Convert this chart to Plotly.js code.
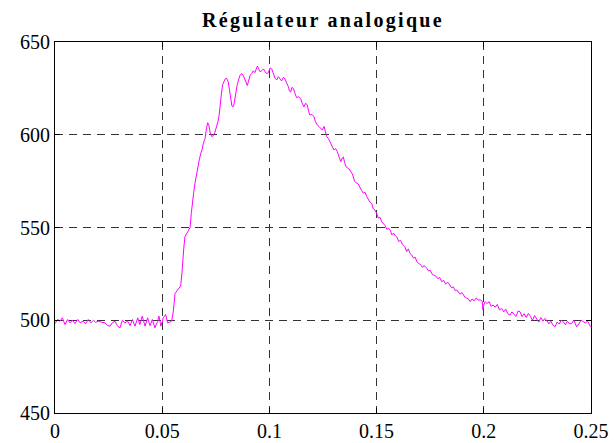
<!DOCTYPE html>
<html>
<head>
<meta charset="utf-8">
<script src="https://cdn.plot.ly/plotly-3.0.1.min.js"></script>
<style>
html,body{margin:0;padding:0;background:#fff;}
#chart{width:614px;height:443px;}
#chart .gtitle{letter-spacing:2.3px;}
</style>
</head>
<body>
<div id="chart"></div>
<script>
const chartTitle = "Régulateur analogique";
const xTickVals = [0, 0.05, 0.1, 0.15, 0.2, 0.25];
const xTickText = ["0", "0.05", "0.1", "0.15", "0.2", "0.25"];
const yTickVals = [450, 500, 550, 600, 650];
const yTickText = ["450", "500", "550", "600", "650"];

const time = [
0,0.00124,0.00233,0.00342,0.00466,0.00591,0.0070,0.0081,0.0093,0.0106,0.0117,0.0132,0.0143,0.0155,0.0168,0.0179,0.0190,0.0202,0.0218,0.0233,0.0246,0.0257,0.0267,0.0280,0.0292,0.0303,0.0314,0.0326,0.0339,0.0350,0.0361,0.0373,0.0386,0.0396,0.0407,0.0420,0.0432,0.0443,0.0454,0.0466,0.0479,0.0485,0.0494,0.0505,0.0516,0.0525,0.0536,0.0544,0.0552,
0.0556,0.0560,0.0570,0.0580,0.0586,0.0592,0.0595,0.0600,0.0606,0.0615,0.0623,0.0630,0.0636,0.0641,0.0647,0.0653,0.0660,0.0667,0.0673,0.0680,0.0686,0.0692,0.0700,0.0706,0.0712,0.0718,0.0724,0.0731,0.0738,0.0745,0.0750,0.0755,0.0760,0.0766,0.0771,0.0777,0.0782,0.0788,0.0793,0.0800,0.0808,0.0814,0.0820,0.0825,0.0830,0.0835,0.0840,0.0845,0.0850,0.0857,0.0863,0.0870,0.0878,0.0885,0.0890,0.0897,0.0903,0.0910,0.0917,0.0925,0.0932,0.0938,0.0944,0.0950,0.0956,0.0964,0.0972,0.0980,0.0987,0.0995,
0.1003,0.1011,0.1018,0.1026,0.1034,0.1042,0.1050,0.1057,0.1065,0.1073,0.1080,0.1088,0.1094,0.1099,0.1105,0.1112,0.1120,0.1127,0.1136,0.1146,0.1153,0.1161,0.1169,0.1177,0.1183,0.1189,0.1198,0.1208,0.1215,0.1223,0.1231,0.1239,0.1247,0.1255,0.1261,0.1267,0.1275,0.1283,0.1292,0.1301,0.1309,0.1317,0.1325,0.1333,0.1340,0.1345,0.1351,0.1357,0.1366,0.1376,0.1383,0.1389,0.1397,0.1405,0.1414,0.1423,0.1430,0.1438,0.1446,0.1454,0.1462,0.1470,0.1477,0.1485,0.1492,
0.1500,0.1508,0.1516,0.1524,0.1531,0.1540,0.1548,0.1556,0.1563,0.1571,0.1579,0.1587,0.1594,0.1603,0.1612,0.1620,0.1632,0.1640,0.1648,0.1656,0.1664,0.1672,0.1680,0.1688,0.1695,0.1705,0.1714,0.1722,0.1734,0.1742,0.1750,0.1758,0.1765,0.1775,0.1785,0.1795,0.1804,0.1813,0.1822,0.1832,0.1842,0.1850,0.1858,0.1866,0.1874,0.1882,0.1890,0.1897,0.1904,0.1912,0.1920,0.1928,0.1936,0.1945,0.1955,0.1964,0.1974,0.1985,0.1993,0.1996,0.1999,
0.2006,0.2015,0.2025,0.2034,0.2044,0.2053,0.2063,0.2073,0.2083,0.2093,0.2102,0.2112,0.2122,0.2131,0.2141,0.2150,0.2160,0.2169,0.2178,0.2188,0.2198,0.2208,0.2218,0.2227,0.2237,0.2247,0.2256,0.2266,0.2276,0.2285,0.2293,0.2303,0.2313,0.2322,0.2332,0.2342,0.2352,0.2361,0.2371,0.2381,0.2390,0.2400,0.2410,0.2420,0.2433,0.2443,0.2454,0.2464,0.2474,0.2484,0.2492,0.2498
];

const signal = [
498.2,500.4,499.5,501.3,497.7,500.4,498.6,500,498.2,500.4,498.6,499.5,498.2,500.4,498.6,500,498.9,499.5,498.9,498.6,497.1,496.8,498.6,499.5,496.8,495.9,500,498.6,499.5,497.1,500.4,496.8,501.3,497.7,502.2,496.8,501.3,497.1,500.4,495.9,499.5,502.2,496.8,501.3,503.1,498.6,499,499.5,504.9,
510,514.5,516,517.5,518.5,525,531,538,545,547,548.5,550,558,565,569,574,579,583,586.5,590,592,595.5,598,603,606.5,605,601,599,599.5,601,603,605,607,611,618,623,627,629,630,630.5,628.5,624,618,615.5,615,616.5,620,624,627,630,632,633,632,630,628,626.5,629,632,633,634.5,633.5,635,637,635.5,634,634.5,635.5,634,633,633.5,
636,635.5,633.5,630.5,629.5,631.3,630,629,631,630,628,626,623.5,623,625.5,625,622,620,620.5,619.5,617,615,617,616,612.5,610.6,611,609.7,607,605.3,604.5,603.5,602.5,604.5,601,599,598,596.3,594,591.8,592.5,590.9,588,585.5,587.5,588,585,582.8,582,581,579.5,578.3,575,574,573.5,571.1,570,568.5,569,566.6,565,563.5,563,560,559.5,
557.7,555,555.5,553,552.3,551,549,549.5,548.7,546,547,545.5,545,542.5,543,541,539.6,537,538.5,536,535.2,533.5,534,531.5,530.7,530,528.5,529.5,528,526.5,527,525,524.4,524,522.5,523,520.8,521.5,519.5,520.5,519,517.5,518,516,516.3,515,514,515,513.6,512.5,512,511.5,510,511.5,510.5,512,510.9,511,510,505.5,508,
510,509,510,507.5,508.2,507,508.5,505.5,506.4,504.5,506,503.5,502.8,504.5,503,502,505,504.6,502,503.5,501.5,503.7,502,500,502.5,501,499,501.5,499.5,501,500.1,498,499.5,497.5,496.5,499,498,500,499.2,497.5,499.5,498,498.3,500,496.5,498,500,499.2,498.5,499.5,498,496.5
];

const serif = "'Liberation Serif', 'Times New Roman', serif";

const trace = {
  x: time,
  y: signal,
  type: 'scatter',
  mode: 'lines',
  line: {color: '#ff00ff', width: 1},
  hoverinfo: 'skip'
};

const axisCommon = {
  showline: true,
  linecolor: '#000',
  linewidth: 1,
  mirror: 'ticks',
  ticks: 'inside',
  ticklen: 5,
  tickcolor: '#000',
  showgrid: true,
  gridcolor: '#333',
  gridwidth: 1,
  griddash: '8px,6px',
  zeroline: false,
  tickfont: {family: serif, size: 20, color: '#000'}
};

const layout = {
  width: 614,
  height: 443,
  margin: {l: 55, r: 23, t: 42, b: 30},
  paper_bgcolor: '#fff',
  plot_bgcolor: '#fff',
  showlegend: false,
  title: {
    text: '<b>' + chartTitle + '</b>',
    font: {family: serif, size: 20, color: '#000'},
    x: 0.5,
    xref: 'paper',
    y: 1,
    yref: 'paper',
    yanchor: 'bottom',
    pad: {b: 15}
  },
  xaxis: Object.assign({}, axisCommon, {
    range: [0, 0.25],
    tickvals: xTickVals,
    ticktext: xTickText
  }),
  yaxis: Object.assign({}, axisCommon, {
    range: [450, 650],
    tickvals: yTickVals,
    ticktext: yTickText
  })
};

Plotly.newPlot('chart', [trace], layout, {displayModeBar: false, staticPlot: true});
</script>
</body>
</html>
